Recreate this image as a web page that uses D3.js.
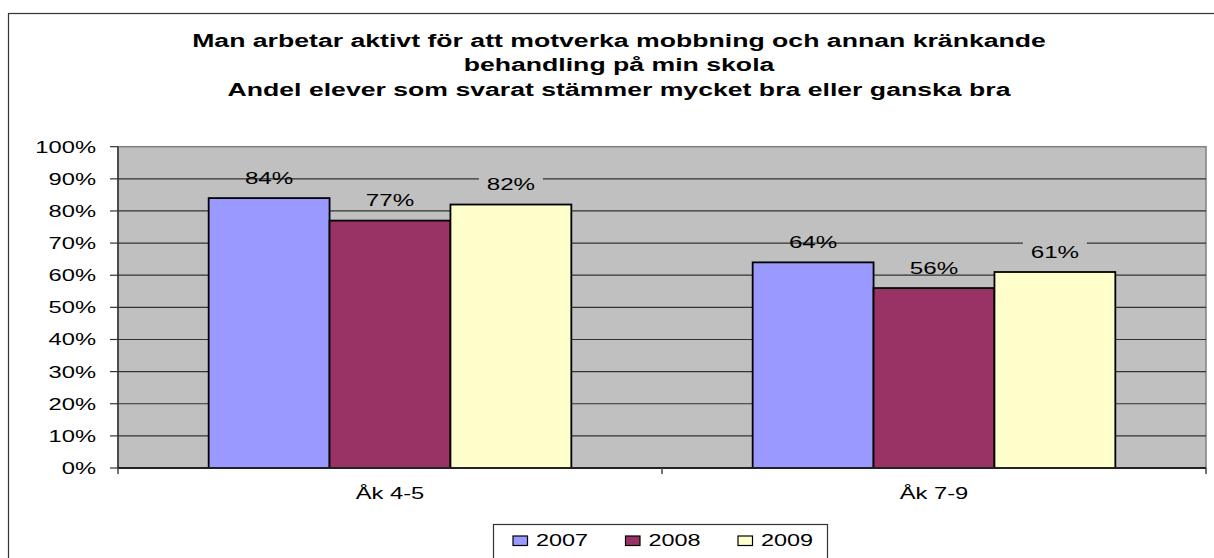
<!DOCTYPE html>
<html>
<head>
<meta charset="utf-8">
<script src="https://cdn.jsdelivr.net/npm/d3@7"></script>
<style>
  html, body { margin: 0; padding: 0; background: #fff; overflow: hidden; }
  text { font-family: "Liberation Sans", Arial, sans-serif; fill: #000; }
</style>
</head>
<body>
<svg id="chart" width="1214" height="558"></svg>
<script>
const titleLines = [
    'Man arbetar aktivt för att motverka mobbning och annan kränkande',
    'behandling på min skola',
    'Andel elever som svarat stämmer mycket bra eller ganska bra'
]
const categories = ['Åk 4-5', 'Åk 7-9']
const years = ['2007', '2008', '2009']
const values2007 = [0.84, 0.64]
const values2008 = [0.77, 0.56]
const values2009 = [0.82, 0.61]
const yTicks = [0, 0.1, 0.2, 0.3, 0.4, 0.5, 0.6, 0.7, 0.8, 0.9, 1]
const colors = ['#9999FF', '#993366', '#FFFFCC']

const series = [values2007, values2008, values2009]
const SX = 1.44 // picture is stretched horizontally

const plot = { left: 118, right: 1206, top: 146.7, bottom: 468 }
const svg = d3.select('#chart')

// puts stretched text at x,y
function label(g, x, y, str, opts = {}) {
    return g.append('text')
        .attr('transform', `translate(${x},${y}) scale(${SX},1)`)
        .attr('text-anchor', opts.anchor || 'middle')
        .attr('font-size', opts.size || 16.5)
        .attr('font-weight', opts.weight || 'normal')
        .text(str)
}

// outer chart border
svg.append('rect')
    .attr('x', 8.5).attr('y', 13.5)
    .attr('width', 1240).attr('height', 600)
    .attr('fill', '#fff').attr('stroke', '#333').attr('stroke-width', 1.2)

// title
const titleY = [46.5, 71, 95.5]
titleLines.forEach((t, i) => label(svg, 619, titleY[i], t, { size: 18.5, weight: 'bold' }))

const x = d3.scaleBand().domain(categories).range([plot.left, plot.right])
const xSub = d3.scaleBand().domain(years).range([0, x.bandwidth()]).paddingOuter(0.75)
const y = d3.scaleLinear().domain([0, 1]).range([plot.bottom, plot.top])

// plot area
svg.append('rect')
    .attr('x', plot.left).attr('y', plot.top)
    .attr('width', plot.right - plot.left).attr('height', plot.bottom - plot.top)
    .attr('fill', '#C0C0C0').attr('stroke', '#808080').attr('stroke-width', 1.5)

// gridlines
svg.append('g')
    .selectAll('line')
    .data(yTicks.filter(d => d > 0 && d < 1))
    .join('line')
    .attr('x1', plot.left).attr('x2', plot.right)
    .attr('y1', d => y(d)).attr('y2', d => y(d))
    .attr('stroke', '#333').attr('stroke-width', 1.2)

// y axis
const yAxis = svg.append('g')
yAxis.append('line')
    .attr('x1', plot.left).attr('x2', plot.left)
    .attr('y1', plot.top).attr('y2', plot.bottom)
    .attr('stroke', '#333').attr('stroke-width', 1.5)
yTicks.forEach(t => {
    yAxis.append('line')
        .attr('x1', plot.left - 8).attr('x2', plot.left)
        .attr('y1', y(t)).attr('y2', y(t))
        .attr('stroke', '#333').attr('stroke-width', 1.2)
    label(yAxis, 96, y(t) + 6, d3.format('.0%')(t), { anchor: 'end' })
})

// bars
const bars = svg.append('g')
categories.forEach((c, ci) => {
    years.forEach((yr, si) => {
        const v = series[si][ci]
        bars.append('rect')
            .attr('x', x(c) + xSub(yr))
            .attr('y', y(v))
            .attr('width', xSub.bandwidth())
            .attr('height', y(0) - y(v))
            .attr('fill', colors[si])
            .attr('stroke', '#000').attr('stroke-width', 1.8)
    })
})

// x axis
const xAxis = svg.append('g')
xAxis.append('line')
    .attr('x1', plot.left).attr('x2', plot.right)
    .attr('y1', plot.bottom).attr('y2', plot.bottom)
    .attr('stroke', '#222').attr('stroke-width', 1.8)
const xTickPos = categories.map(c => x(c)).concat([plot.right])
xTickPos.forEach(p => {
    xAxis.append('line')
        .attr('x1', p).attr('x2', p)
        .attr('y1', plot.bottom).attr('y2', plot.bottom + 6)
        .attr('stroke', '#444').attr('stroke-width', 1.5)
})
categories.forEach(c => label(xAxis, x(c) + x.bandwidth() / 2, 499, c, { size: 16.5 }))

// data labels
const labels = svg.append('g')
categories.forEach((c, ci) => {
    years.forEach((yr, si) => {
        const v = series[si][ci]
        const cx = x(c) + xSub(yr) + xSub.bandwidth() / 2
        const by = y(v) - 14.5
        if (si === 2) {
            labels.append('rect')
                .attr('x', cx - 32).attr('y', by - 17)
                .attr('width', 64).attr('height', 22)
                .attr('fill', '#C0C0C0')
        }
        label(labels, cx, by, d3.format('.0%')(v), { size: 16.8 })
    })
})

// legend
const legend = svg.append('g')
legend.append('rect')
    .attr('x', 493.5).attr('y', 524.5)
    .attr('width', 334).attr('height', 60)
    .attr('fill', '#fff').attr('stroke', '#333').attr('stroke-width', 1.2)
years.forEach((yr, i) => {
    const lx = 513 + i * 112.5
    legend.append('rect')
        .attr('x', lx).attr('y', 536)
        .attr('width', 14.5).attr('height', 9.5)
        .attr('fill', colors[i]).attr('stroke', '#000').attr('stroke-width', 1.2)
    label(legend, lx + 23, 545.5, yr, { anchor: 'start', size: 16.3 })
})
</script>
</body>
</html>
